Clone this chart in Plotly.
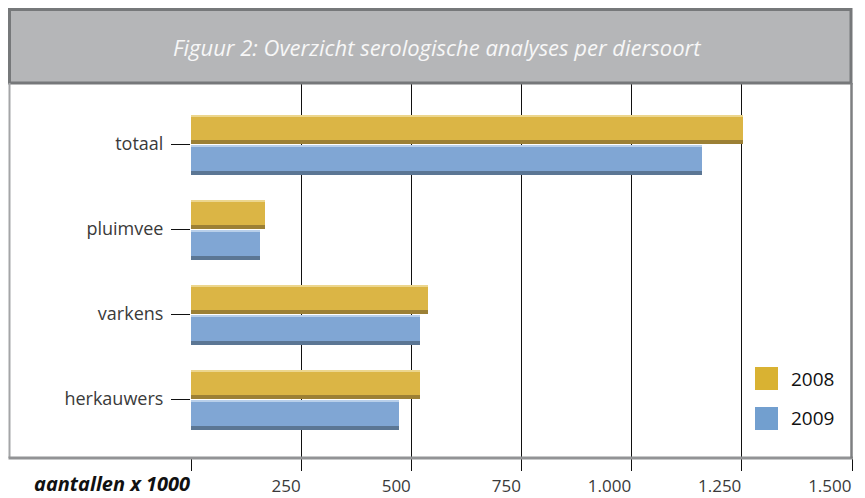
import plotly.graph_objects as go

# ---- data ----
categories = ["herkauwers", "varkens", "pluimvee", "totaal"]
values_2008 = [520, 537, 168, 1252]
values_2009 = [471, 520, 157, 1159]
series_names = ["2008", "2009"]
x_tick_vals = [0, 250, 500, 750, 1000, 1250, 1500]
x_tick_text = ["", "250", "500", "750", "1.000", "1.250", "1.500"]
x_axis_label = "aantallen x 1000"
title_text = "Figuur 2: Overzicht serologische analyses per diersoort"

# ---- style ----
FONT = "Open Sans"
gold = dict(main="#dbb545", dark="#9c8035", light="#ecd68e", swatch="#d9b232")
blue = dict(main="#80a6d4", dark="#5b7694", light="#b8cfea", swatch="#729fcf")

PAGE_W, PAGE_H = 865, 498
OFF = 8  # default page body margin
L, R, T, B = 191, 852, 83, 458  # plot area in page pixels
PW, PH = R - L, B - T


def px(xp):
    return (xp - L) / PW


def py(yp):
    return (B - yp) / PH


fig = go.Figure()


def add_series(vals, name, c, base, width):
    sh, hl = 0.047, 0.024
    common = dict(y=categories, x=vals, orientation="h", showlegend=False,
                  hoverinfo="x+y", name=name)
    fig.add_trace(go.Bar(**common, offset=base, width=width,
                         marker=dict(color=c["dark"], line=dict(width=0))))
    fig.add_trace(go.Bar(**common, offset=base + sh, width=width - sh,
                         marker=dict(color=c["light"], line=dict(width=0))))
    fig.add_trace(go.Bar(**common, offset=base + sh, width=width - sh - hl,
                         marker=dict(color=c["main"], line=dict(width=0))))


add_series(values_2008, series_names[0], gold, 0.0, 0.345)
add_series(values_2009, series_names[1], blue, -0.368, 0.356)

shapes = []
# title box
shapes.append(dict(type="rect", xref="paper", yref="paper",
                   x0=px(9.5), x1=px(851), y0=py(83), y1=py(9.5),
                   fillcolor="#b5b6b8", line=dict(color="#76787a", width=3),
                   layer="above"))
# frame of plot area (left, bottom, right)
shapes.append(dict(type="line", xref="paper", yref="paper",
                   x0=px(9.5), x1=px(9.5), y0=py(83), y1=py(458),
                   line=dict(color="#a4a5a7", width=2), layer="above"))
shapes.append(dict(type="line", xref="paper", yref="paper",
                   x0=px(8.5), x1=px(853), y0=py(458), y1=py(458),
                   line=dict(color="#929395", width=3), layer="above"))
shapes.append(dict(type="line", xref="paper", yref="paper",
                   x0=px(851.5), x1=px(851.5), y0=py(83), y1=py(458),
                   line=dict(color="#7e7f81", width=2.5), layer="above"))
# legend swatches
shapes.append(dict(type="rect", xref="paper", yref="paper",
                   x0=px(755), x1=px(778), y0=py(390), y1=py(367),
                   fillcolor=gold["swatch"], line=dict(width=0), layer="above"))
shapes.append(dict(type="rect", xref="paper", yref="paper",
                   x0=px(755), x1=px(778), y0=py(430), y1=py(407),
                   fillcolor=blue["swatch"], line=dict(width=0), layer="above"))

annotations = [
    dict(text=title_text, xref="paper", yref="paper", x=px(437), y=py(47),
         xanchor="center", yanchor="middle", showarrow=False,
         font=dict(family=FONT, size=22, color="#f7f7f7", style="italic")),
    dict(text=series_names[0], xref="paper", yref="paper", x=px(789), y=py(379),
         xanchor="left", yanchor="middle", showarrow=False,
         font=dict(family=FONT, size=19, color="#111111")),
    dict(text=series_names[1], xref="paper", yref="paper", x=px(789), y=py(418),
         xanchor="left", yanchor="middle", showarrow=False,
         font=dict(family=FONT, size=19, color="#111111")),
    dict(text="<b><i>" + x_axis_label + "</i></b>", xref="x", yref="paper",
         x=x_tick_vals[0], y=py(484), xanchor="right", yanchor="middle",
         xshift=1, showarrow=False,
         font=dict(family=FONT, size=20, color="#111111")),
]

fig.update_layout(
    width=PAGE_W - OFF, height=PAGE_H - OFF,
    margin=dict(l=L - OFF, r=PAGE_W - R, t=T - OFF, b=PAGE_H - B, pad=0),
    paper_bgcolor="white", plot_bgcolor="white",
    barmode="overlay",
    bargap=0,
    showlegend=False,
    shapes=shapes,
    annotations=annotations,
    font=dict(family=FONT),
)

fig.update_xaxes(
    range=[0, 1500],
    tickvals=x_tick_vals, ticktext=x_tick_text,
    showgrid=True, gridcolor="#111111", gridwidth=1,
    zeroline=False, showline=False,
    ticks="outside", ticklen=12, tickcolor="#111111", tickwidth=1,
    ticklabelposition="outside left",
    tickfont=dict(family=FONT, size=17, color="#3a3a3a"),
    ticklabelstandoff=13,
    automargin=False,
    fixedrange=True,
)
fig.update_yaxes(
    type="category", categoryorder="array", categoryarray=categories,
    range=[-0.694, 3.718],
    showgrid=False, zeroline=False, showline=False,
    ticks="outside", ticklen=19, tickcolor="#111111", tickwidth=1,
    tickfont=dict(family=FONT, size=18, color="#3a3a3a"),
    ticklabelstandoff=4,
    automargin=False,
    fixedrange=True,
)

fig.write_html("out.html")
